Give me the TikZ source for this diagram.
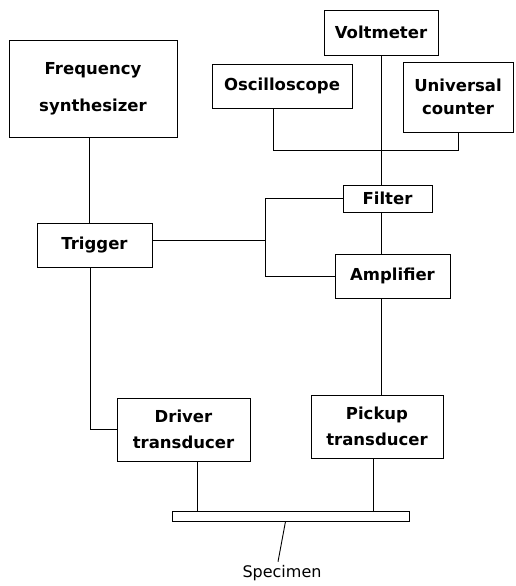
\documentclass[tikz,border=0pt]{standalone}
\usepackage{fontspec}
\setmainfont{DejaVu Sans}
\usepackage{tikz}

\tikzset{
	unit/.style={draw, line width=0.9pt, align=center, inner sep=0pt, font=\fontsize{16.5}{26}\bfseries},
	wire/.style={line width=0.9pt}
}

\begin{document}
\begin{tikzpicture}[x=1pt, y=-1pt]
		\useasboundingbox (0,0) rectangle (515,586);
		\node[unit, minimum width=168, minimum height=97] (freq) at (93,88.5) {Frequency\\[11pt]synthesizer};
		\node[unit, minimum width=114, minimum height=45] (volt) at (381,32.5) {Voltmeter};
		\node[unit, minimum width=140, minimum height=44] (osc) at (282,86) {Oscilloscope};
		\node[unit, minimum width=110, minimum height=70] (count) at (458,97) {Universal\\[-3pt]counter};
		\node[unit, minimum width=89, minimum height=27] (filter) at (387.5,198.5) {Filter};
		\node[unit, minimum width=115, minimum height=44] (amp) at (392.5,276) {Amplifier};
		\node[unit, minimum width=115, minimum height=44] (trig) at (94.5,245) {Trigger};
		\node[unit, minimum width=133, minimum height=63] (drive) at (183.5,429.5) {Driver\\transducer};
		\node[unit, minimum width=132, minimum height=63] (pick) at (377,426.5) {Pickup\\transducer};
		\node[draw, line width=0.9pt, inner sep=0pt, minimum width=237, minimum height=10] (spec) at (290.5,516) {};
		\node[font=\fontsize{16}{20}\selectfont] (speclabel) at (282,573) {Specimen};
		\coordinate (split) at (265,240);
		\draw[wire] ([xshift=-4pt]freq.south) -- ([xshift=-4pt]freq.south |- trig.north);
		\draw[wire] ([xshift=-4pt]trig.south) |- (drive.west);
		\draw[wire] (trig.east |- split) -- (split);
		\draw[wire] (split) |- (filter.west);
		\draw[wire] (split) |- (amp.west);
		\draw[wire] (volt.south) -- (volt.south |- filter.north);
		\draw[wire] ([xshift=-9pt]osc.south) -- ++(0,42) -| (count.south);
		\draw[wire] (volt.south |- filter.south) -- (volt.south |- amp.north);
		\draw[wire] (volt.south |- amp.south) -- (volt.south |- pick.north);
		\draw[wire] ([xshift=14pt]drive.south) -- ([xshift=14pt]drive.south |- spec.north);
		\draw[wire] ([xshift=-4pt]pick.south) -- ([xshift=-4pt]pick.south |- spec.north);
		\draw[wire] ([xshift=-5pt]spec.south) -- ([xshift=-4pt]speclabel.north);
	\end{tikzpicture}
\end{document}
